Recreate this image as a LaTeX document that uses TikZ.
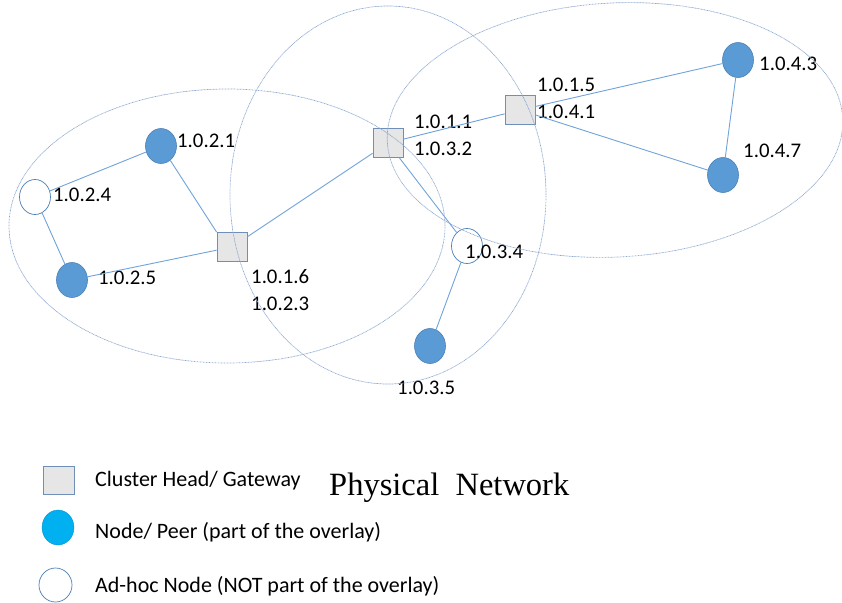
\documentclass[tikz,border=0pt]{standalone}
\usepackage{fontspec}
\setmainfont{Carlito}
\newfontfamily\pnserif{Liberation Serif}
\usetikzlibrary{shapes.geometric}
\definecolor{peerblue}{HTML}{5B9BD5}
\definecolor{peeredge}{HTML}{4A7FB5}
\definecolor{linkblue}{HTML}{6FA3DA}
\definecolor{zoneblue}{HTML}{8EA9D0}
\definecolor{headfill}{HTML}{E6E6E6}
\definecolor{headedge}{HTML}{6F8FB8}
\definecolor{legendblue}{HTML}{00B0F0}
\begin{document}
\begin{tikzpicture}[x=1pt,y=-1pt,
  peer/.style={ellipse, minimum width=31pt, minimum height=35pt, inner sep=0pt, fill=peerblue, draw=peeredge, line width=0.6pt},
  adhoc/.style={ellipse, minimum width=31pt, minimum height=35pt, inner sep=0pt, fill=white, draw=peeredge, line width=0.7pt},
  chead/.style={rectangle, minimum width=30pt, minimum height=29pt, inner sep=0pt, fill=headfill, draw=headedge, line width=0.8pt},
  lbl/.style={anchor=base west, inner sep=0pt, align=left, font=\fontsize{20.8}{26.3}\selectfont},
  legtext/.style={anchor=base west, inner sep=0pt, font=\fontsize{22}{26}\selectfont},
  link/.style={draw=linkblue, line width=0.9pt},
  zone/.style={draw=zoneblue, line width=0.7pt, dash pattern=on 0.9pt off 0.6pt}]
\useasboundingbox (0,0) rectangle (842,602);

% nodes
\node[peer]  (n021) at (161,146) {};
\node[adhoc] (n024) at (35,197) {};
\node[peer]  (n025) at (72,280) {};
\node[chead] (h016) at (232,247) {};
\node[chead] (h011) at (388,143) {};
\node[chead] (h015) at (520,110) {};
\node[peer]  (n043) at (738,60) {};
\node[peer]  (n047) at (723,175) {};
\node[adhoc] (n034) at (467,246) {};
\node[peer]  (n035) at (430,346) {};

% labels
\node[lbl] (l021) at (177,147) {1.0.2.1};
\node[lbl] (l024) at (53,201) {1.0.2.4};
\node[lbl] (l025) at (98,284.5) {1.0.2.5};
\node[lbl] (l016) at (251,310) {1.0.1.6\\1.0.2.3};
\node[lbl] (l011) at (414,155) {1.0.1.1\\1.0.3.2};
\node[lbl] (l015) at (537,118) {1.0.1.5\\1.0.4.1};
\node[lbl] (l043) at (759,70.7) {1.0.4.3};
\node[lbl] (l047) at (743,157.3) {1.0.4.7};
\node[lbl] (l034) at (465,258) {1.0.3.4};
\node[lbl] (l035) at (397,394) {1.0.3.5};

% links
\draw[link] (n024) -- (n021);
\draw[link] (n024) -- (n025);
\draw[link] (n025) -- (h016);
\draw[link] (n021) -- (h016.north west);
\draw[link] (h016) -- (h011);
\draw[link] (h011) -- (h015);
\draw[link] (h015) -- (n043);
\draw[link] (h015) -- (n047);
\draw[link] (n043) -- (n047);
\draw[link] (h011) -- (n034);
\draw[link] (n034) -- (n035);

% cluster zones
\draw[zone] (227,226) ellipse [x radius=218pt, y radius=137pt];
\draw[zone] (388,195) ellipse [x radius=158pt, y radius=189pt];
\draw[zone, rotate around={3:(615,130)}] (615,130) ellipse [x radius=228pt, y radius=127pt];

% legend
\node[chead, minimum width=31pt, minimum height=28pt] (lghead) at (58.5,480) {};
\node[ellipse, minimum width=32pt, minimum height=35pt, inner sep=0pt, fill=legendblue, draw=legendblue!80!black, line width=0.3pt] (lgpeer) at (58,527.5) {};
\node[adhoc, minimum width=33pt, minimum height=34pt] (lgadhoc) at (55.5,585) {};
\node[legtext] (lt1) at (95,486) {Cluster Head/ Gateway};
\node[legtext] (lt2) at (95,538) {Node/ Peer (part of the overlay)};
\node[legtext] (lt3) at (95,592) {Ad-hoc Node (NOT part of the overlay)};
\node[anchor=base west, inner sep=0pt, font=\pnserif\fontsize{32.5}{36}\selectfont] (title) at (329,495) {Physical\ \ Network};
\end{tikzpicture}
\end{document}
